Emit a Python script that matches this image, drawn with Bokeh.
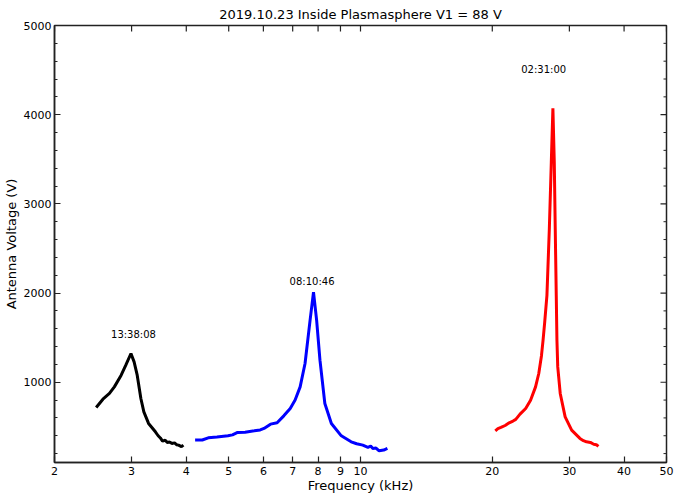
import math
from bokeh.plotting import figure
from bokeh.models import (Range1d, FixedTicker, SingleIntervalTicker,
                          BasicTickFormatter)
from bokeh.core.properties import value
from bokeh.embed import file_html
from bokeh.resources import INLINE

# ---------------- data ----------------
title_text = "2019.10.23 Inside Plasmasphere V1 = 88 V"
x_label = "Frequency (kHz)"
y_label = "Antenna Voltage (V)"

x_ticks = [2, 3, 4, 5, 6, 7, 8, 9, 10, 20, 30, 40, 50]
y_major = [1000, 2000, 3000, 4000, 5000]
y_minor_step = 200

freq_133808 = [2.49, 2.58, 2.67, 2.74, 2.84, 2.91, 2.99, 3.04, 3.09, 3.15, 3.20,
               3.28, 3.40, 3.45, 3.49, 3.53, 3.58, 3.62, 3.66, 3.71, 3.76, 3.80,
               3.84, 3.90, 3.94]
volt_133808 = [717, 810, 874, 948, 1079, 1191, 1322, 1228, 1079, 818, 668,
               538, 444, 400, 375, 340, 350, 325, 330, 314, 320, 300,
               295, 278, 295]

freq_081046 = [4.19, 4.35, 4.49, 4.70, 4.98, 5.10, 5.24, 5.45, 5.72, 5.90, 6.02,
               6.23, 6.45, 6.68, 6.91, 7.09, 7.28, 7.47, 7.67, 7.81, 7.94, 8.08,
               8.29, 8.58, 9.04, 9.52, 9.80, 10.12, 10.40, 10.55, 10.66, 10.85,
               11.03, 11.30, 11.52]
volt_081046 = [351, 352, 377, 385, 399, 410, 437, 440, 455, 465, 482,
               530, 545, 623, 706, 800, 948, 1210, 1694, 2011, 1694, 1247,
               762, 538, 399, 332, 310, 295, 270, 285, 258, 262,
               231, 240, 258]

freq_023100 = [20.32, 20.6, 20.93, 21.4, 21.86, 22.3, 22.63, 23.14, 23.84, 24.46,
               25.11, 25.54, 25.90, 26.12, 26.35, 26.66, 27.00, 27.28, 27.51,
               27.71, 27.85, 28.00, 28.10, 28.22, 28.59, 29.34, 30.36, 31.71,
               32.3, 32.82, 33.5, 34.1, 34.57, 34.95]
volt_023100 = [455, 480, 493, 515, 545, 565, 583, 642, 706, 799,
               948, 1098, 1295, 1470, 1675, 1974, 2724, 3466, 4071,
               3466, 2724, 1974, 1470, 1172, 874, 612, 463, 370,
               345, 332, 325, 305, 300, 280]

label_text = ["13:38:08", "08:10:46", "02:31:00"]
label_freq = [3.03, 7.75, 26.21]
label_volt = [1539, 2125, 4512]

x_lo, x_hi = 2, 50
y_lo, y_hi = 100, 5000

# ---------------- figure ----------------
FONT = "DejaVu Sans"
AX = "#222222"

p = figure(width=677, height=496, x_axis_type="log",
           x_range=Range1d(x_lo, x_hi), y_range=Range1d(y_lo, y_hi),
           output_backend="svg", toolbar_location=None,
           title=title_text,
           min_border_left=46, min_border_right=11,
           min_border_top=25, min_border_bottom=34)

p.background_fill_color = "white"
p.border_fill_color = "white"
p.outline_line_color = AX
p.outline_line_width = 1.5
p.xgrid.visible = False
p.ygrid.visible = False

p.title.align = "center"
p.title.text_font = FONT
p.title.text_font_size = "13px"
p.title.text_font_style = "normal"
p.title.text_color = "black"
p.title.standoff = 7

for ax in (p.xaxis[0], p.yaxis[0]):
    ax.axis_line_color = AX
    ax.axis_line_width = 1.5
    ax.major_tick_line_color = AX
    ax.minor_tick_line_color = AX
    ax.major_tick_line_width = 1.2
    ax.minor_tick_line_width = 1.0
    ax.major_tick_in = 6
    ax.major_tick_out = 0
    ax.minor_tick_in = 3
    ax.minor_tick_out = 0
    ax.major_label_text_font = FONT
    ax.major_label_text_font_size = "11px"
    ax.major_label_text_color = "black"
    ax.axis_label_text_font = FONT
    ax.axis_label_text_font_size = "13px"
    ax.axis_label_text_font_style = "normal"
    ax.axis_label_text_color = "black"

p.xaxis.ticker = FixedTicker(ticks=x_ticks, minor_ticks=[])
p.xaxis.formatter = BasicTickFormatter()
p.xaxis.axis_label = x_label
p.xaxis.major_label_standoff = 4
p.xaxis.axis_label_standoff = 0

p.yaxis.ticker = SingleIntervalTicker(interval=1000, num_minor_ticks=5)
p.yaxis.formatter = BasicTickFormatter(use_scientific=False)
p.yaxis.axis_label = y_label
p.yaxis.major_label_standoff = 3
p.yaxis.axis_label_standoff = 2

# mirrored inward ticks on top and right spines (markers centred on the spine,
# the outer half is clipped by the frame)
y_minor = [v for v in range(y_minor_step, y_hi, y_minor_step) if v % 1000 != 0]
p.scatter(x=x_ticks, y=[y_hi] * len(x_ticks), marker="dash", size=12,
          angle=math.pi / 2, line_color=AX, line_width=1.2)
p.scatter(x=[x_hi] * len(y_major), y=y_major, marker="dash", size=12,
          line_color=AX, line_width=1.2)
p.scatter(x=[x_hi] * len(y_minor), y=y_minor, marker="dash", size=6,
          line_color=AX, line_width=1.0)

p.line(freq_133808, volt_133808, line_color="black", line_width=3)
p.line(freq_081046, volt_081046, line_color="blue", line_width=3)
p.line(freq_023100, volt_023100, line_color="red", line_width=3)

p.text(x=label_freq, y=label_volt, text=label_text,
       text_font=value(FONT), text_font_size="10px",
       text_align="center", text_baseline="middle", text_color="black")

open("out.html", "w").write(file_html(p, INLINE))
